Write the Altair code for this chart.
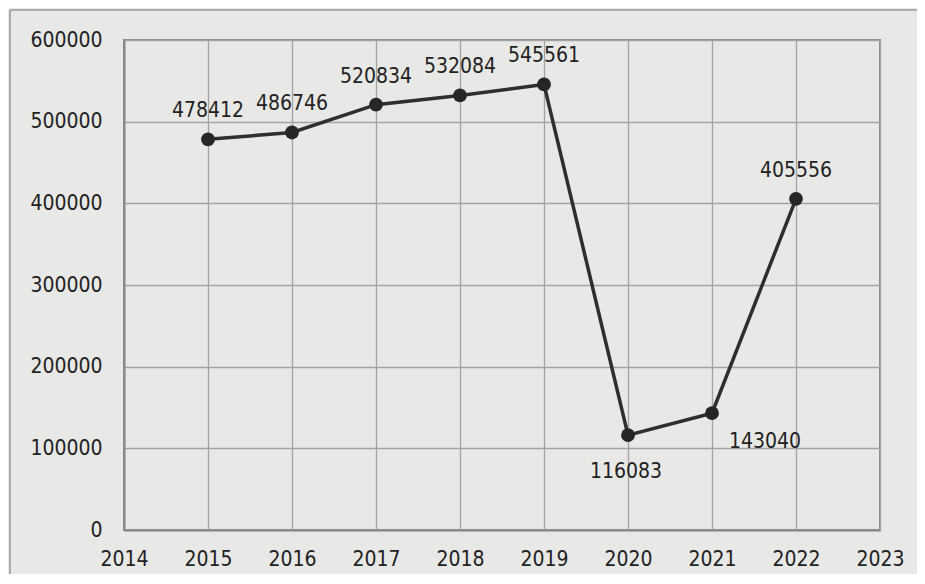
import altair as alt
import pandas as pd

years = [2015, 2016, 2017, 2018, 2019, 2020, 2021, 2022]
values = [478412, 486746, 520834, 532084, 545561, 116083, 143040, 405556]
x_ticks = list(range(2014, 2024))
y_ticks = [0, 100000, 200000, 300000, 400000, 500000, 600000]

df = pd.DataFrame({"year": years, "value": values})

FONT = "DejaVu Sans Condensed, Liberation Sans, sans-serif"
INK = "#222222"
GRID = "#a3a3a3"

x_enc = alt.X("year:Q",
              scale=alt.Scale(domain=[2014, 2023], nice=False, zero=False),
              axis=alt.Axis(values=x_ticks, format="d", title=None, ticks=False,
                            labelPadding=18, grid=True, labelFlush=False,
                            labelOverlap=False))
y_enc = alt.Y("value:Q",
              scale=alt.Scale(domain=[0, 600000], nice=False),
              axis=alt.Axis(values=y_ticks, format="d", title=None, ticks=False,
                            labelPadding=22, grid=True, labelFlush=False,
                            labelOverlap=False))

base = alt.Chart(df).encode(x=x_enc, y=y_enc)

line = base.mark_line(color="#2e2e2e", strokeWidth=3.5)
points = base.mark_point(filled=True, color="#262626", size=190, opacity=1)

lab_above = base.transform_filter(
    "datum.year != 2020 && datum.year != 2021"
).mark_text(font=FONT, fontSize=21, color=INK, baseline="alphabetic",
            align="center", dy=-22).encode(text="value:Q")
lab_2020 = base.transform_filter("datum.year == 2020").mark_text(
    font=FONT, fontSize=21, color=INK, baseline="alphabetic",
    align="center", dx=-2, dy=43).encode(text="value:Q")
lab_2021 = base.transform_filter("datum.year == 2021").mark_text(
    font=FONT, fontSize=21, color=INK, baseline="alphabetic",
    align="center", dx=53, dy=35).encode(text="value:Q")

frame = alt.Data(values=[{"k": 1}])
outer_top = alt.Chart(frame).mark_rule(color="#9a9a9a", strokeWidth=1.5).encode(
    x=alt.value(-114), x2=alt.value(820), y=alt.value(-30))
outer_left = alt.Chart(frame).mark_rule(color="#9a9a9a", strokeWidth=1.5).encode(
    x=alt.value(-114), y=alt.value(-30), y2=alt.value(560))

chart = alt.layer(outer_top, outer_left, line, points, lab_above, lab_2020, lab_2021).properties(
    width=756, height=490,
    background="#e8e8e6",
    autosize=alt.AutoSizeParams(type="none"),
    padding={"left": 116, "top": 32, "right": 37, "bottom": 44},
).configure_view(
    stroke="#8a8a8a", strokeWidth=2
).configure_axis(
    labelFont=FONT, labelFontSize=21, labelColor=INK,
    gridColor=GRID, gridWidth=1.3, gridOpacity=1,
    domainColor="#8a8a8a", domainWidth=2,
)

chart.save("out.html", embed_options={"renderer": "svg", "actions": False})
